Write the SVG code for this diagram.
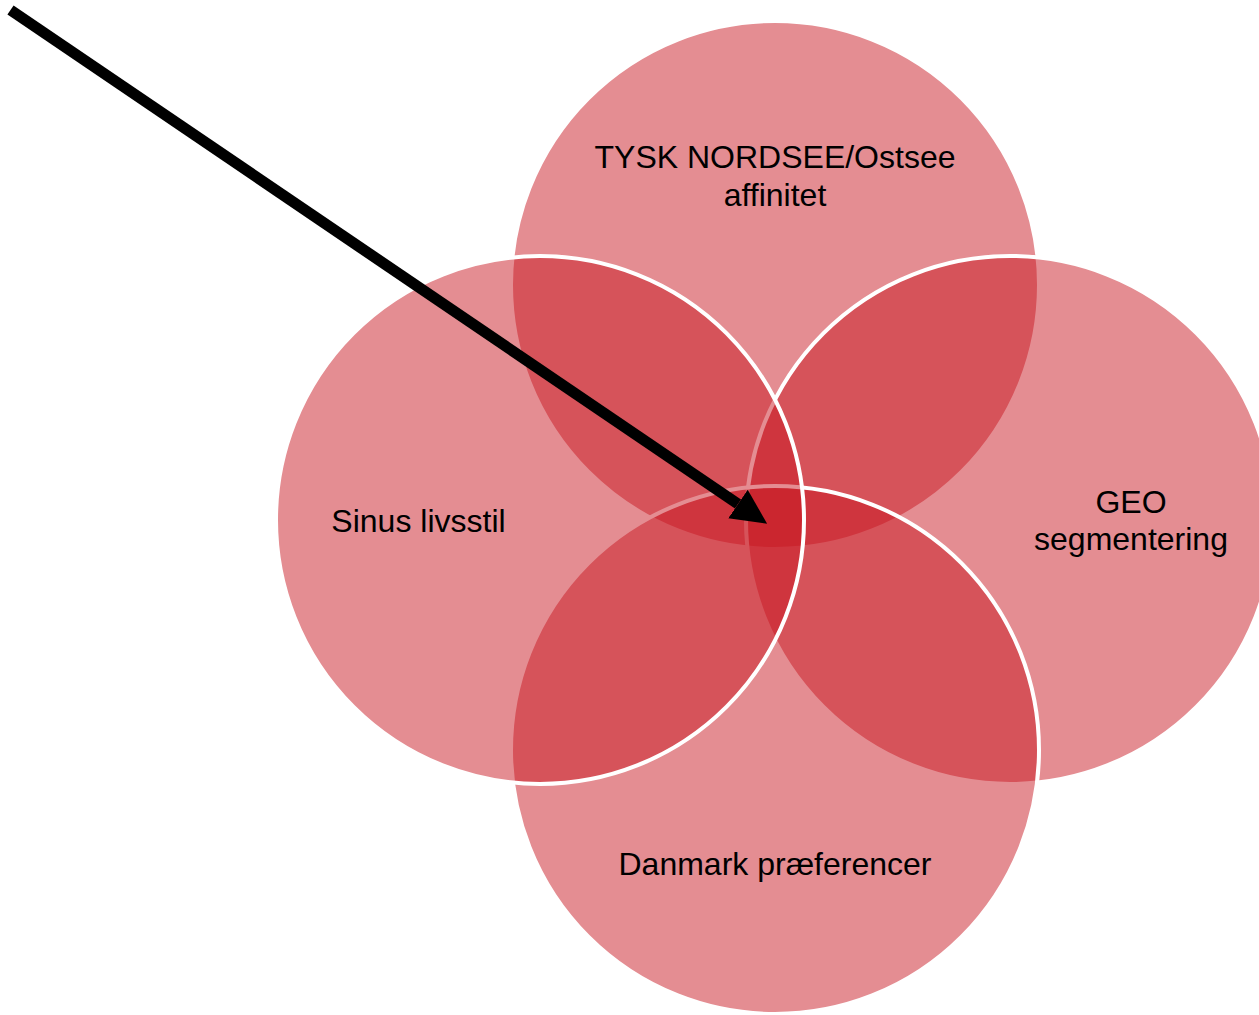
<svg xmlns="http://www.w3.org/2000/svg" width="1259" height="1015" viewBox="0 0 1259 1015">
<style>
.c{fill:rgb(200,22,32);fill-opacity:0.49;stroke:#ffffff;stroke-width:4}
.t{font-family:"Liberation Sans",Arial,sans-serif;font-size:32px;fill:#000000;text-anchor:middle}
</style>
<defs>
<marker id="ah" markerUnits="strokeWidth" markerWidth="3.3" markerHeight="3.3" refX="0" refY="1.575" orient="auto" viewBox="0 0 3.3 3.15">
<path d="M0,0 L3.2,1.575 L0,3.15 z" fill="#000000"/>
</marker>
</defs>
<rect width="1259" height="1015" fill="#ffffff"/>
<g id="node-top">
<circle class="c" cx="775" cy="285" r="264"/>
<text class="t" x="775" y="168">TYSK NORDSEE/Ostsee</text>
<text class="t" x="775" y="205.5">affinitet</text>
</g>
<g id="node-right">
<circle class="c" cx="1010" cy="520" r="264"/>
<text class="t" x="1131" y="513">GEO</text>
<text class="t" x="1131" y="550">segmentering</text>
</g>
<g id="node-bottom">
<circle class="c" cx="775" cy="750" r="264"/>
<text class="t" x="775" y="875">Danmark præferencer</text>
</g>
<g id="node-left">
<circle class="c" cx="540" cy="520" r="264"/>
<text class="t" x="418.5" y="531.5">Sinus livsstil</text>
</g>
<g id="connectors">
<line x1="10.5" y1="10" x2="738" y2="504" stroke="#000000" stroke-width="11" marker-end="url(#ah)"/>
</g>
</svg>
